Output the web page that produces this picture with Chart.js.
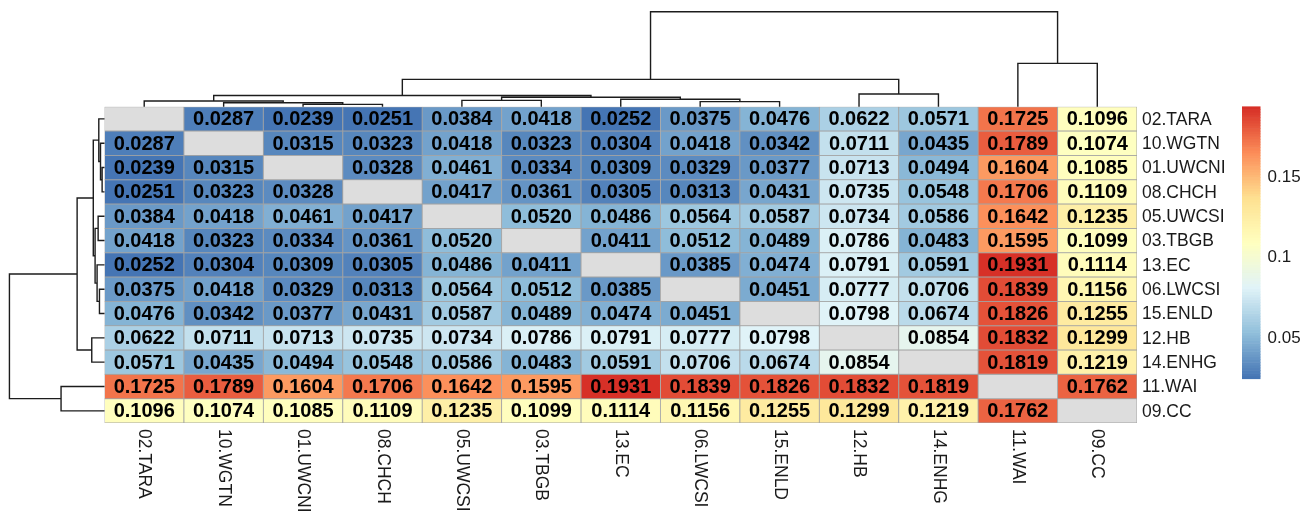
<!DOCTYPE html>
<html>
<head>
<meta charset="utf-8">
<title>Pairwise FST heatmap</title>
<script src="https://cdn.jsdelivr.net/npm/chart.js@4.4.1/dist/chart.umd.min.js"></script>
<style>
  html, body { margin: 0; padding: 0; background: #ffffff; }
  #wrap { width: 1315px; height: 514px; }
</style>
</head>
<body>
<div id="wrap"><canvas id="heat" width="1315" height="514"></canvas></div>
<script>
// Populations in clustered display order (rows and columns share it)
const populations = ['02.TARA', '10.WGTN', '01.UWCNI', '08.CHCH', '05.UWCSI', '03.TBGB', '13.EC',
                     '06.LWCSI', '15.ENLD', '12.HB', '14.ENHG', '11.WAI', '09.CC'];

// Pairwise FST values; null on the diagonal
const fst = [
  [null,   0.0287, 0.0239, 0.0251, 0.0384, 0.0418, 0.0252, 0.0375, 0.0476, 0.0622, 0.0571, 0.1725, 0.1096],
  [0.0287, null,   0.0315, 0.0323, 0.0418, 0.0323, 0.0304, 0.0418, 0.0342, 0.0711, 0.0435, 0.1789, 0.1074],
  [0.0239, 0.0315, null,   0.0328, 0.0461, 0.0334, 0.0309, 0.0329, 0.0377, 0.0713, 0.0494, 0.1604, 0.1085],
  [0.0251, 0.0323, 0.0328, null,   0.0417, 0.0361, 0.0305, 0.0313, 0.0431, 0.0735, 0.0548, 0.1706, 0.1109],
  [0.0384, 0.0418, 0.0461, 0.0417, null,   0.0520, 0.0486, 0.0564, 0.0587, 0.0734, 0.0586, 0.1642, 0.1235],
  [0.0418, 0.0323, 0.0334, 0.0361, 0.0520, null,   0.0411, 0.0512, 0.0489, 0.0786, 0.0483, 0.1595, 0.1099],
  [0.0252, 0.0304, 0.0309, 0.0305, 0.0486, 0.0411, null,   0.0385, 0.0474, 0.0791, 0.0591, 0.1931, 0.1114],
  [0.0375, 0.0418, 0.0329, 0.0313, 0.0564, 0.0512, 0.0385, null,   0.0451, 0.0777, 0.0706, 0.1839, 0.1156],
  [0.0476, 0.0342, 0.0377, 0.0431, 0.0587, 0.0489, 0.0474, 0.0451, null,   0.0798, 0.0674, 0.1826, 0.1255],
  [0.0622, 0.0711, 0.0713, 0.0735, 0.0734, 0.0786, 0.0791, 0.0777, 0.0798, null,   0.0854, 0.1832, 0.1299],
  [0.0571, 0.0435, 0.0494, 0.0548, 0.0586, 0.0483, 0.0591, 0.0706, 0.0674, 0.0854, null,   0.1819, 0.1219],
  [0.1725, 0.1789, 0.1604, 0.1706, 0.1642, 0.1595, 0.1931, 0.1839, 0.1826, 0.1832, 0.1819, null,   0.1762],
  [0.1096, 0.1074, 0.1085, 0.1109, 0.1235, 0.1099, 0.1114, 0.1156, 0.1255, 0.1299, 0.1219, 0.1762, null]
];

// Colour key tick labels
const legendTicks = [0.05, 0.1, 0.15];

// Reversed RdYlBu ramp (low = blue, high = red)
const palette = ['#4575B4', '#91BFDB', '#E0F3F8', '#FFFFBF', '#FEE090', '#FC8D59', '#D73027'];

// Hierarchical clustering (hclust-style merge table: negative = leaf position, 1-based; positive = earlier merge)
const mergeLeft  = [-3, -2, -8, -1, -5, -7, 5, 4, -10, 8, -12, 10];
const mergeRight = [-4,  1, -9,  2, -6,  3, 6, 7, -11, 9, -13, 11];
const mergeHeight = [0.025, 0.042, 0.053, 0.060, 0.067, 0.078, 0.099, 0.118, 0.134, 0.288, 0.457, 1.0];

const FONT = "'Liberation Sans', Arial, Helvetica, sans-serif";
const nCells = populations.length;
const flat = fst.flat().filter(v => v !== null);
const vmin = Math.min(...flat);
const vmax = Math.max(...flat);

function hexToRgb(h) {
  return [parseInt(h.slice(1, 3), 16), parseInt(h.slice(3, 5), 16), parseInt(h.slice(5, 7), 16)];
}
const paletteRgb = palette.map(hexToRgb);

function ramp(f) {
  const s = f * (paletteRgb.length - 1);
  const i = Math.min(paletteRgb.length - 2, Math.floor(s));
  const t = s - i;
  const a = paletteRgb[i], b = paletteRgb[i + 1];
  const c = a.map((x, k) => Math.round(x + (b[k] - x) * t));
  return 'rgb(' + c.join(',') + ')';
}
// 100 binned colours between the data minimum and maximum
const bins = 100;
const binColors = Array.from({ length: bins }, (_, k) => ramp(k / (bins - 1)));
function cellColor(v) {
  if (v === null) return '#DDDDDD';
  const k = Math.min(bins - 1, Math.max(0, Math.floor((v - vmin) / (vmax - vmin) * bins)));
  return binColors[k];
}

// One floating-bar dataset per row; each bar spans a single row band
const datasets = fst.map((row, r) => ({
  label: populations[r],
  data: populations.map(() => [r, r + 1]),
  backgroundColor: row.map(cellColor),
  borderColor: '#a3a3a3',
  borderWidth: 0.8,
  borderSkipped: false,
  barPercentage: 1,
  categoryPercentage: 1,
  grouped: false
}));

const decorPlugin = {
  id: 'heatDecor',
  afterDatasetsDraw(chart) {
    const ctx = chart.ctx;
    const xs = chart.scales.x, ys = chart.scales.y;
    const area = chart.chartArea;
    ctx.save();

    // cell values
    ctx.fillStyle = '#000000';
    ctx.font = 'bold 20px ' + FONT;
    ctx.textAlign = 'center';
    ctx.textBaseline = 'middle';
    fst.forEach((row, r) => {
      row.forEach((v, c) => {
        if (v === null) return;
        ctx.fillText(v.toFixed(4), xs.getPixelForValue(c), ys.getPixelForValue(r + 0.5) + 1);
      });
    });

    // row labels on the right
    ctx.fillStyle = '#1a1a1a';
    ctx.font = '17.5px ' + FONT;
    ctx.textAlign = 'left';
    populations.forEach((p, r) => {
      ctx.fillText(p, area.right + 5, ys.getPixelForValue(r + 0.5) + 1);
    });

    // column labels, rotated to read downward
    populations.forEach((p, c) => {
      ctx.save();
      ctx.translate(xs.getPixelForValue(c), area.bottom + 6);
      ctx.rotate(Math.PI / 2);
      ctx.textAlign = 'left';
      ctx.textBaseline = 'middle';
      ctx.fillText(p, 0, 0);
      ctx.restore();
    });

    // dendrograms
    const treeDepthRows = 3.9;   // top tree height in row units
    const treeDepthCols = 1.197; // left tree width in column units
    const hmax = Math.max(...mergeHeight);
    const nodes = [];
    function child(ref) {
      if (ref < 0) return { pos: -ref - 1, h: 0 };
      return nodes[ref - 1];
    }
    mergeLeft.forEach((l, i) => {
      const a = child(l), b = child(mergeRight[i]);
      nodes.push({ pos: (a.pos + b.pos) / 2, h: mergeHeight[i], a, b });
    });
    function drawTree(toXY) {
      ctx.beginPath();
      nodes.forEach(n => {
        const p1 = toXY(n.a.pos, n.a.h), p2 = toXY(n.a.pos, n.h);
        const p3 = toXY(n.b.pos, n.h), p4 = toXY(n.b.pos, n.b.h);
        ctx.moveTo(p1[0], p1[1]);
        ctx.lineTo(p2[0], p2[1]);
        ctx.lineTo(p3[0], p3[1]);
        ctx.lineTo(p4[0], p4[1]);
      });
      ctx.stroke();
    }
    ctx.strokeStyle = '#1c1c1c';
    ctx.lineWidth = 1.4;
    ctx.lineJoin = 'miter';
    ctx.lineCap = 'butt';
    drawTree((pos, h) => [xs.getPixelForValue(pos), ys.getPixelForValue(-h / hmax * treeDepthRows)]);
    drawTree((pos, h) => [xs.getPixelForValue(-0.5 - h / hmax * treeDepthCols), ys.getPixelForValue(pos + 0.5)]);

    // colour key
    const keyX = 1242, keyW = 18.5;
    const keyTop = area.top, keyBottom = 378.8;
    const keyPx = v => keyBottom - (v - vmin) / (vmax - vmin) * (keyBottom - keyTop);
    const step = (keyBottom - keyTop) / bins;
    binColors.forEach((col, k) => {
      ctx.fillStyle = col;
      ctx.fillRect(keyX, keyBottom - (k + 1) * step - 0.3, keyW, step + 0.6);
    });
    ctx.fillStyle = '#1a1a1a';
    ctx.font = '17px ' + FONT;
    ctx.textAlign = 'left';
    ctx.textBaseline = 'middle';
    legendTicks.forEach(t => ctx.fillText(String(t), keyX + keyW + 7, keyPx(t) + 1));

    ctx.restore();
  }
};

new Chart(document.getElementById('heat'), {
  type: 'bar',
  data: { labels: populations, datasets },
  options: {
    responsive: false,
    animation: false,
    events: [],
    layout: { padding: { left: 104.5, top: 106.7, right: 178, bottom: 91 } },
    scales: {
      x: { type: 'category', offset: true, display: false, grid: { display: false } },
      y: { type: 'linear', min: 0, max: nCells, reverse: true, display: false, grid: { display: false } }
    },
    plugins: { legend: { display: false }, tooltip: { enabled: false } }
  },
  plugins: [decorPlugin]
});
</script>
</body>
</html>
